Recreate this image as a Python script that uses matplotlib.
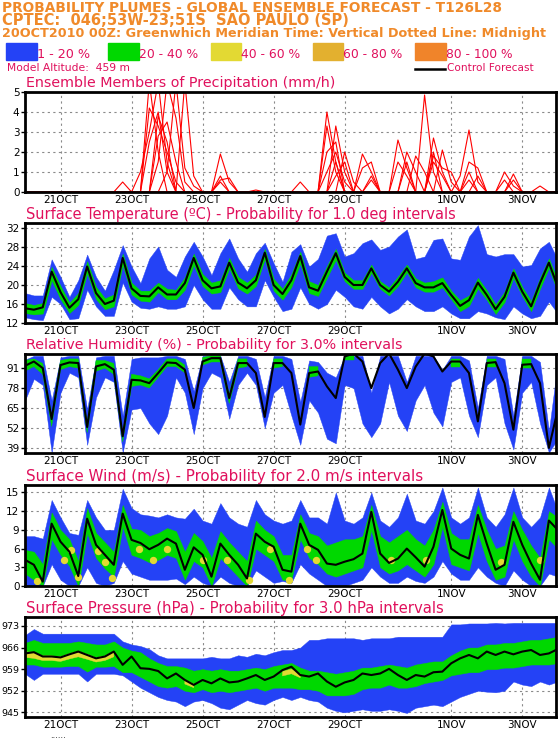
import numpy as np
import matplotlib
matplotlib.use('Agg')
import matplotlib.pyplot as plt

nan = np.nan

# time axis: every 6h from 20OCT2010 00Z, in days
days = np.arange(61) * 0.25
date_ticks = [1, 3, 5, 7, 9, 12, 14]
date_labels = ['21OCT', '23OCT', '25OCT', '27OCT', '29OCT', '1NOV', '3NOV']

# ---- precipitation ensemble members (mm/h), rows of 3 days ----
Z = [0] * 12
prec_a = Z + [0, 0, 5.5, 2.0, 0, 0, 0, 0, 0, 0, 0, 0] + [0, 0, 0, 0, 0, 0, 0, 0, 0, 0, 4.0, 1.5] \
    + [0, 0, 0, 0, 0, 0, 0, 0, 0, 4.85, 1.0, 0] + Z + [0]
prec_a[11] = 0.5
prec_b = Z + [0, 1.0, 3.0, 5.5, 1.5, 0, 0, 0, 0, 0, 0, 0] + [0, 0, 0, 0, 0, 0, 0, 0, 0, 0, 0, 3.3] \
    + [1.0, 0, 0, 0, 0, 0, 2.6, 1.2, 0, 0, 0, 0] + [0, 0.8, 3.1, 0.5, 0, 0, 0, 0, 0, 0, 0, 0] + [0]
prec_c = Z + [0, 0, 4.2, 3.3, 2.0, 0.5, 0, 0, 0, 0, 0, 0] + [0, 0, 0, 0, 0, 0, 0, 0, 0, 0, 2.0, 2.5] \
    + [0, 0, 1.9, 1.0, 0, 0, 0, 0, 0, 0, 2.7, 1.0] + Z + [0]
prec_d = Z + [0, 0, 0, 1.5, 5.5, 3.7, 0.5, 0, 0, 0, 1.9, 0.5] + Z \
    + [2.0, 0.5, 0, 0, 0, 0, 0, 2.0, 1.0, 0, 0, 2.1] + [0.5, 0, 0, 0, 0, 0, 1.0, 0.3, 0, 0, 0, 0] + [0]
prec_e = Z + [0, 0, 0, 0, 1.0, 5.5, 1.2, 0.3, 0, 0, 0.8, 0] + [0, 0, 0, 0, 0, 0, 0, 0.5, 0, 0, 3.3, 1.0] \
    + [0, 0, 1.2, 1.5, 0, 0, 0, 0, 1.8, 1.0, 0, 0] + [0, 0, 1.5, 1.2, 0, 0, 0, 0.9, 0, 0, 0, 0] + [0]
prec_f = Z + [0, 0, 0, 3.8, 2.5, 0, 5.5, 0.8, 0, 0, 0.6, 0.7] + [0, 0, 0.1, 0, 0, 0, 0, 0, 0, 0, 0, 1.5] \
    + [0, 0, 0, 0.8, 0, 0, 1.5, 0.8, 0, 0, 1.8, 1.2] + [1.0, 0, 0, 0.8, 0, 0, 0.6, 0, 0, 0, 0.3, 0] + [0]
prec_g = Z + [0, 0, 2.5, 4.0, 1.0, 0, 0, 0, 0, 0, 0, 0] + [0, 0, 0, 0, 0, 0, 0, 0, 0, 0, 1.0, 2.0] \
    + [0.5, 0, 0, 0.6, 0, 0, 0, 0, 0, 0, 1.5, 0.8] + [0, 0, 0.6, 0, 0, 0, 0, 0, 0, 0, 0, 0] + [0]
prec_h = Z + [0, 0, 0, 2.8, 3.5, 1.5, 0, 0, 0, 0, 0.5, 0] + [0, 0, 0, 0, 0, 0, 0, 0, 0, 0, 0, 0.8] \
    + [1.5, 0, 0, 0, 0, 0, 0, 1.5, 0, 0, 2.0, 0] + [0, 0, 1.0, 0, 0, 0, 0, 0.6, 0, 0, 0, 0] + [0]
prec_members = [prec_a, prec_b, prec_c, prec_d, prec_e, prec_f, prec_g, prec_h]

# ---- surface temperature (C) ----
temp_ctrl = [15.1, 14.8, 15.3, 22.8, 18.5, 15.2, 17.0, 23.9, 18.3, 16.0, 16.7, 25.7,
             19.3, 17.7, 17.6, 19.5, 18.0, 18.0, 20.4, 25.7, 21.0, 19.3, 19.7, 24.7,
             20.5, 19.3, 21.0, 26.8, 20.0, 18.1, 21.0, 26.1, 19.5, 18.8, 22.8, 26.7,
             21.7, 20.0, 20.0, 23.5, 20.0, 18.6, 20.7, 23.5, 20.4, 19.5, 19.5, 20.4,
             17.9, 15.6, 16.8, 20.5, 17.9, 14.9, 17.5, 22.6, 18.6, 15.5, 20.4, 24.7, 19.6]
temp_blue_hi = [18.3, 17.8, 17.8, 25.4, 21.7, 17.5, 21.0, 26.4, 21.7, 18.8, 23.2, 28.4,
                23.9, 20.4, 25.6, 28.1, 23.2, 21.7, 26.0, 29.1, 26.0, 22.1, 26.7, 29.8,
                25.6, 22.8, 26.7, 28.9, 24.6, 20.7, 27.0, 28.6, 23.9, 25.5, 30.4, 30.9,
                26.0, 26.7, 28.8, 29.6, 27.4, 28.1, 30.2, 31.7, 25.5, 26.0, 29.5, 29.8,
                25.6, 25.3, 30.2, 32.6, 26.5, 26.0, 26.5, 26.5, 23.9, 24.2, 27.7, 29.1, 25.3]
temp_blue_lo = [13.2, 12.8, 12.6, 17.5, 16.0, 12.8, 13.0, 19.0, 15.5, 13.5, 13.5, 20.5,
                16.5, 15.2, 15.0, 15.5, 15.0, 15.0, 15.5, 20.0, 17.0, 15.0, 15.0, 19.5,
                17.0, 15.5, 15.5, 21.0, 17.5, 14.5, 15.0, 19.5, 16.0, 15.0, 16.0, 19.0,
                17.5, 15.5, 15.0, 17.5, 15.5, 14.0, 15.0, 17.0, 15.5, 14.5, 14.5, 15.5,
                14.0, 13.0, 13.0, 14.5, 14.0, 13.2, 12.8, 15.5, 14.0, 13.0, 13.5, 16.5, 14.0]
temp_green_hi = [16.2, 15.8, 16.2, 23.8, 19.8, 16.3, 18.3, 25.0, 19.6, 17.2, 18.0, 26.6,
                 20.5, 18.8, 18.8, 20.5, 19.2, 19.0, 21.6, 26.6, 22.3, 20.5, 21.0, 25.7,
                 21.7, 20.5, 22.2, 27.6, 21.3, 19.2, 22.3, 27.0, 20.8, 20.0, 24.0, 27.6,
                 22.6, 21.0, 21.0, 24.3, 20.8, 19.5, 21.8, 24.3, 21.4, 20.5, 20.8, 21.6,
                 18.8, 16.8, 17.8, 21.5, 18.9, 15.9, 18.6, 23.5, 19.6, 16.6, 21.5, 25.6, 20.8]
temp_green_lo = [14.1, 13.8, 14.0, 21.0, 17.0, 14.1, 15.8, 22.5, 17.0, 14.9, 15.5, 24.2,
                 18.0, 16.7, 16.5, 18.5, 17.0, 17.0, 19.0, 24.2, 19.8, 18.2, 18.5, 23.5,
                 19.3, 18.2, 19.8, 25.5, 18.8, 16.9, 19.6, 24.5, 18.3, 17.7, 21.5, 25.3,
                 20.8, 19.2, 19.2, 22.6, 19.2, 17.8, 19.8, 22.7, 19.5, 18.6, 18.6, 19.5,
                 17.0, 14.5, 15.6, 19.3, 16.9, 13.9, 16.4, 21.5, 17.6, 14.5, 19.2, 23.6, 18.4]

# ---- relative humidity (%) ----
rh_ctrl = [92.5, 95.3, 91.0, 57.8, 93.0, 94.7, 94.3, 52.6, 92.1, 93.6, 90.0, 46.6,
           83.4, 83.0, 81.2, 87.8, 94.7, 94.3, 90.0, 65.0, 95.3, 97.5, 97.5, 71.5,
           94.3, 94.3, 87.8, 59.2, 94.3, 94.3, 87.8, 54.2, 87.8, 88.8, 79.1, 71.5,
           98.6, 100.5, 95.3, 78.0, 94.3, 100.5, 90.0, 78.0, 92.0, 100.5, 98.6, 88.8,
           95.3, 95.3, 87.8, 56.3, 94.3, 94.9, 81.2, 50.9, 93.2, 93.6, 81.2, 39.0, 63.9]
rh_blue_hi = [96.5, 99, 99, 70, 98, 99, 99, 64, 98, 99, 99, 60,
              97, 98, 98, 98, 99, 99, 97, 76, 99, 99, 99, 82,
              99, 99, 97, 72, 99, 99, 97, 69, 96, 95, 88, 85,
              99, 99, 99, 75, 99, 99, 99, 82, 99, 99, 99, 90,
              99, 99, 96, 65, 99, 99, 97, 60, 99, 99, 95, 50, 95]
rh_blue_lo = [70, 84, 80, 36, 75, 88, 85, 41, 72, 85, 82, 36,
              64, 65, 55, 48, 60, 85, 75, 48, 78, 88, 85, 58,
              80, 88, 80, 52, 75, 80, 60, 41, 70, 62, 45, 42,
              80, 78, 55, 46, 55, 82, 60, 50, 70, 80, 62, 53,
              82, 85, 60, 46, 80, 85, 55, 38, 75, 82, 55, 36, 45]
rh_green_hi = [96, 97, 94, 60, 96, 97, 97, 55, 96, 96, 94, 48,
               87, 86, 84, 90, 97, 97, 93, nan, 98, 99, 99, 74,
               97, 97, nan, nan, 97, 97, nan, nan, 92, 92, nan, nan,
               100, 100, nan, nan, nan, nan, nan, nan, nan, nan, nan, nan,
               97, 97, nan, nan, 97, 97, nan, nan, 97, 97, nan, nan, nan]
rh_green_lo = [89, 92, 87, 53, 90, 92, 91, 49, 89, 91, 87, 43,
               79, 80, 78, 85, 92, 92, 88, nan, 93, 95, 95, 68,
               91, 92, nan, nan, 91, 92, nan, nan, 85, 86, nan, nan,
               96, 96, nan, nan, nan, nan, nan, nan, nan, nan, nan, nan,
               92, 92, nan, nan, 92, 92, nan, nan, 91, 91, nan, nan, nan]

# ---- surface wind (m/s) ----
wind_ctrl = [4.2, 3.4, 0.7, 10.0, 7.1, 5.5, 1.6, 10.8, 6.6, 5.0, 3.4, 11.6,
             7.4, 6.9, 5.9, 6.6, 7.6, 6.8, 2.6, 6.2, 5.0, 1.5, 6.8, 5.0,
             3.4, 1.2, 8.4, 7.1, 6.3, 2.6, 2.3, 10.0, 6.6, 5.8, 3.6, 3.4,
             3.9, 4.3, 5.2, 11.9, 5.2, 3.7, 4.4, 6.0, 4.6, 3.1, 6.3, 12.2,
             6.0, 5.0, 4.4, 11.4, 6.8, 2.6, 3.4, 10.3, 6.6, 3.6, 1.0, 10.5, 9.0]
wind_blue_hi = [8.0, 8.0, 7.6, 13.8, 11.0, 8.5, 8.2, 13.8, 11.0, 9.0, 9.0, 15.6,
                12.5, 11.5, 11.3, 11.0, 11.5, 11.0, 10.8, 12.4, 10.5, 10.0, 13.3, 11.0,
                10.0, 9.5, 13.8, 11.5, 10.5, 10.0, 10.5, 13.8, 11.0, 11.0, 10.0, 15.0,
                10.5, 10.0, 11.0, 15.0, 10.5, 9.5, 11.0, 14.8, 10.5, 10.0, 12.0, 15.8,
                11.0, 10.0, 11.0, 15.8, 11.0, 9.5, 11.5, 15.8, 11.0, 9.5, 11.0, 15.8, 12.0]
wind_blue_lo = [0, 0, 0, 3.5, 1.0, 0, 0, 3.0, 0.5, 0, 0.5, 4.0,
                2.0, 1.5, 1.0, 1.0, 1.0, 1.2, 0.3, 1.5, 0.5, 0, 1.5, 0.5,
                0, 0, 2.5, 1.5, 0.5, 0.8, 0.5, 3.5, 2.0, 1.0, 0, 0,
                0, 0.5, 1.0, 3.0, 1.5, 0.5, 0.5, 1.5, 0.8, 0.5, 1.5, 4.0,
                2.0, 1.0, 1.0, 3.0, 1.5, 0.5, 0, 2.5, 1.0, 0, 0, 2.0, 1.5]
wind_green_hi = [5.8, 5.5, 3.5, 11.8, 9.0, 7.5, 4.0, 12.5, 8.5, 7.0, 5.5, 13.0,
                 9.2, 9.0, 8.0, 8.5, 9.3, 8.8, 5.5, 8.5, 7.2, 4.5, 8.8, 7.0,
                 5.5, 4.0, 10.5, 9.0, 8.0, 5.0, 5.0, 11.5, 8.5, 8.0, 6.5, 7.0,
                 7.5, 7.5, 8.0, 13.0, 8.0, 7.0, 8.0, 9.0, 7.5, 6.5, 9.0, 13.5,
                 8.5, 7.5, 7.5, 13.0, 9.0, 6.0, 6.5, 12.0, 9.0, 6.5, 4.5, 12.0, 11.0]
wind_green_lo = [2.0, 1.0, 0, 7.5, 5.0, 3.2, 0, 8.5, 4.5, 2.8, 1.5, 9.5,
                 5.0, 4.5, 3.8, 4.2, 5.0, 4.5, 1.0, 4.0, 3.0, 0, 4.5, 3.0,
                 1.5, 0, 6.0, 5.0, 4.0, 1.0, 1.0, 7.5, 4.5, 3.5, 2.0, 1.5,
                 2.0, 2.5, 3.0, 9.0, 3.0, 2.0, 2.5, 3.5, 2.5, 1.5, 3.5, 9.5,
                 3.5, 3.0, 2.5, 8.5, 4.0, 1.0, 1.5, 7.5, 4.0, 1.5, 0, 7.5, 6.0]
# 40-60 % spots in the wind panel
wind_yel_day = [0.35, 1.1, 1.3, 1.5, 2.05, 2.25, 2.45, 3.2, 3.6, 4.0, 5.0, 5.7, 6.3, 6.9,
                7.43, 7.95, 8.2, 10.3, 11.3, 13.4, 14.5]
wind_yel_val = [0.8, 4.2, 5.8, 1.5, 5.6, 3.8, 1.3, 5.9, 4.2, 6.0, 4.2, 4.2, 1.0, 6.0,
                1.0, 5.9, 4.2, 4.2, 4.1, 3.9, 4.2]

# ---- surface pressure (hPa) ----
pres_ctrl = [964.1, 964.5, 963.1, 963.1, 962.8, 963.8, 964.7, 963.6, 962.5, 963.1, 964.7, 960.4,
             963.1, 959.3, 959.1, 958.4, 956.0, 957.6, 955.5, 953.9, 955.5, 954.4, 956.0, 954.7,
             955.0, 956.0, 957.1, 955.5, 956.6, 958.7, 959.8, 957.1, 956.6, 957.6, 955.0, 953.3,
             954.7, 955.5, 957.6, 957.1, 957.6, 959.1, 957.1, 955.5, 957.1, 956.6, 958.0, 958.2,
             960.9, 962.5, 963.6, 962.5, 964.7, 963.6, 964.7, 963.8, 964.7, 965.2, 963.6, 964.1, 965.5]
pres_blue_hi = [970, 972, 970.5, 970.5, 970.5, 970.5, 970.5, 970.5, 970.5, 970.5, 970.5, 968,
                967, 966.5, 965.5, 963.5, 962.5, 962.5, 962.5, 962.5, 962.5, 963, 962.5, 962.5,
                963.5, 963, 964, 963.5, 964.5, 965.2, 965.2, 966, 968.5, 968.5, 969, 969,
                969, 969, 968.5, 969, 969, 969, 969.5, 969.5, 969.5, 969.5, 969.5, 969.5,
                973.5, 973.5, 973.8, 973.8, 973.8, 974, 973.8, 974, 974, 974, 974, 974, 974]
pres_blue_lo = [957.5, 955.5, 957.5, 957.5, 957.5, 957.5, 957.5, 955, 957.5, 957.5, 957.5, 957,
                955, 953, 951.5, 950, 949, 948.5, 947, 948.5, 949, 948, 946.5, 946,
                947.5, 949, 948, 947.5, 949, 950, 949, 950, 949, 948.5, 946.5, 945.5,
                945, 945.5, 946, 945.5, 945.5, 946, 945.5, 944.8, 946.5, 947, 947.5, 947,
                948.5, 950, 951, 952, 951.7, 951.5, 952, 955, 954, 953.5, 955, 954, 955]
pres_green_hi = [967.5, 968.5, 967.5, 967.5, 967.5, 967.5, 968, 967.5, 967, 967, 968, 966,
                 965, 964.5, 962.5, 961, 960, 960, 959.5, 958.5, 959, 958.5, 959, 958.5,
                 958.5, 959, 959.5, 959, 960, 960.5, 961, 959.5, 958.5, 958.5, 958, 957.5,
                 958, 958.5, 959.5, 959.5, 960, 960.5, 960, 959.5, 960.5, 961, 961.5, 961.5,
                 963.5, 965, 966, 966, 967, 967, 967.5, 967.5, 968, 968.5, 968.5, 969, 969.5]
pres_green_lo = [960.5, 960.5, 959.8, 959.8, 959.8, 960, 960, 958.2, 959.8, 959.8, 960, 958,
                 958, 956.5, 955, 953.5, 953, 953.5, 952, 951.5, 952.5, 951.5, 952, 951.5,
                 952, 952.5, 953, 952, 953, 953, 953, 952.5, 952.5, 952, 950.5, 950.5,
                 950.5, 951, 952.5, 953, 953, 954, 953, 953, 953.5, 954.5, 955, 955.5,
                 957, 957.5, 958, 958, 959, 959, 959.5, 959.5, 960, 960.5, 960.5, 960.5, 961]
pres_yel_hi = [964.6, 964.5, 963.3, 963.3, 963.0, 964.0, 964.8, 963.8, 962.7, 963.3, 964.8, nan,
               nan, nan, nan, nan, nan, nan, 955.5, 954.2, nan, nan, nan, nan,
               nan, nan, nan, nan, nan, 958.3, 959.0, 957.5] + [nan] * 29
pres_yel_lo = [962.8, 962.5, 961.8, 961.8, 961.5, 962.3, 963.0, 962.2, 961.3, 961.8, 963.0, nan,
               nan, nan, nan, nan, nan, nan, 954.2, 953.0, nan, nan, nan, nan,
               nan, nan, nan, nan, nan, 956.8, 957.5, 956.2] + [nan] * 29

# colours
BLUE = '#2442f6'
GREEN = '#00d800'
YELLOW = '#e3d933'
GOLD = '#e3b02f'
ORANGE = '#f0842a'
TITLE = '#e0105c'
HEAD = '#f08a2a'

W, H = 558, 739
fig = plt.figure(figsize=(W / 100, H / 100), dpi=100)
renderer = fig.canvas.get_renderer()


def put_text(x0, x1, yc, s, color, family='DejaVu Sans', weight='normal'):
    # place text between pixel x0..x1, centred on pixel row yc
    t = fig.text(x0 / W, 1 - yc / H, s, color=color, fontsize=10, family=family,
                 weight=weight, ha='left', va='center')
    bb = t.get_window_extent(renderer=renderer)
    t.set_fontsize(10 * (x1 - x0) / bb.width)
    return t


def panel(top, bottom, ylim, yticks, ysize=7.5):
    ax = fig.add_axes([25 / W, 1 - bottom / H, 531 / W, (bottom - top) / H])
    ax.set_xlim(0, 14.95)
    ax.set_ylim(*ylim)
    ax.set_yticks(yticks)
    ax.set_xticks(date_ticks)
    ax.set_xticklabels(date_labels)
    ax.tick_params(axis='x', length=0, pad=2, labelsize=7.5)
    ax.tick_params(axis='y', length=3, width=1, pad=1, labelsize=ysize)
    ax.set_axisbelow(True)
    ax.grid(True, color='#8a8a8a', linestyle=(0, (2, 3)), linewidth=0.8)
    for s in ax.spines.values():
        s.set_linewidth(2)
        s.set_zorder(5)
    return ax


def plumes(ax, ctrl, blo, bhi, glo, ghi):
    ax.fill_between(days, blo, bhi, color=BLUE, lw=0.3, zorder=1)
    ax.fill_between(days, glo, ghi, color=GREEN, lw=0.3, zorder=1.2)
    ax.plot(days, ctrl, color='black', lw=1.5, zorder=3)


# header
put_text(2, 503, 7.5, 'PROBABILITY PLUMES - GLOBAL ENSEMBLE FORECAST - T126L28', HEAD, weight='bold')
put_text(2, 350, 20.5, 'CPTEC:  046;53W-23;51S  SAO PAULO (SP)', HEAD, weight='bold')
put_text(2, 546, 33.5, '20OCT2010 00Z: Greenwhich Meridian Time: Vertical Dotted Line: Midnight', HEAD,
         weight='bold')

# legend boxes
legend_cols = [BLUE, GREEN, YELLOW, GOLD, ORANGE]
legend_txt = ['1 - 20 %', '20 - 40 %', '40 - 60 %', '60 - 80 %', '80 - 100 %']
legend_x = [(6, 37, 90), (108, 139, 198), (211, 241, 300), (313, 343, 402), (415, 446, 512)]
for col, lab, (bx0, bx1, tx1) in zip(legend_cols, legend_txt, legend_x):
    fig.patches.append(plt.Rectangle((bx0 / W, 1 - 60 / H), (bx1 - bx0) / W, 17 / H,
                                     color=col, transform=fig.transFigure, figure=fig))
    put_text(bx1, tx1, 54, lab, TITLE)
fig.lines.append(plt.Line2D([415 / W, 445 / W], [1 - 68.5 / H] * 2, color='black', lw=1.8,
                            transform=fig.transFigure, figure=fig))
put_text(447, 533, 68, 'Control Forecast', TITLE)
put_text(7, 130, 68, 'Model Altitude:  459 m', TITLE)

# panel 1: precipitation
ax1 = panel(92, 192, (0, 5), [0, 1, 2, 3, 4, 5])
for m in prec_members:
    ax1.plot(days, m, color='red', lw=0.8, zorder=2)
ax1.axhline(0, color='red', lw=2, zorder=4)
put_text(26, 335, 82.5, 'Ensemble Members of Precipitation (mm/h)', TITLE)

# panel 2: temperature
ax2 = panel(223, 323, (12, 33.05), [12, 16, 20, 24, 28, 32])
plumes(ax2, temp_ctrl, temp_blue_lo, temp_blue_hi, temp_green_lo, temp_green_hi)
put_text(26, 455, 214, 'Surface Temperature (\u00baC) - Probability for 1.0 deg intervals', TITLE)

# panel 3: relative humidity
ax3 = panel(354, 453, (35.7, 100.2), [39, 52, 65, 78, 91])
plumes(ax3, rh_ctrl, rh_blue_lo, rh_blue_hi, rh_green_lo, rh_green_hi)
put_text(26, 404, 345, 'Relative Humidity (%) - Probability for 3.0% intervals', TITLE)

# panel 4: wind
ax4 = panel(485, 586, (0, 16.2), [0, 3, 6, 9, 12, 15])
plumes(ax4, wind_ctrl, wind_blue_lo, wind_blue_hi, wind_green_lo, wind_green_hi)
ax4.scatter(wind_yel_day, wind_yel_val, s=28, marker='o', color=YELLOW, lw=0, zorder=2)
put_text(26, 424, 476, 'Surface Wind (m/s) - Probability for 2.0 m/s intervals', TITLE)

# panel 5: pressure
ax5 = panel(617, 717, (943.5, 975.9), [945, 952, 959, 966, 973], ysize=6.8)
plumes(ax5, pres_ctrl, pres_blue_lo, pres_blue_hi, pres_green_lo, pres_green_hi)
ax5.fill_between(days, pres_yel_lo, pres_yel_hi, color=YELLOW, lw=0.3, zorder=2)
put_text(26, 444, 608, 'Surface Pressure (hPa) - Probability for 3.0 hPa intervals', TITLE)
fig.text(50 / W, 1 - 736 / H, '......', color='black', fontsize=6, ha='left', va='center')

fig.savefig('out.png', dpi=100)
